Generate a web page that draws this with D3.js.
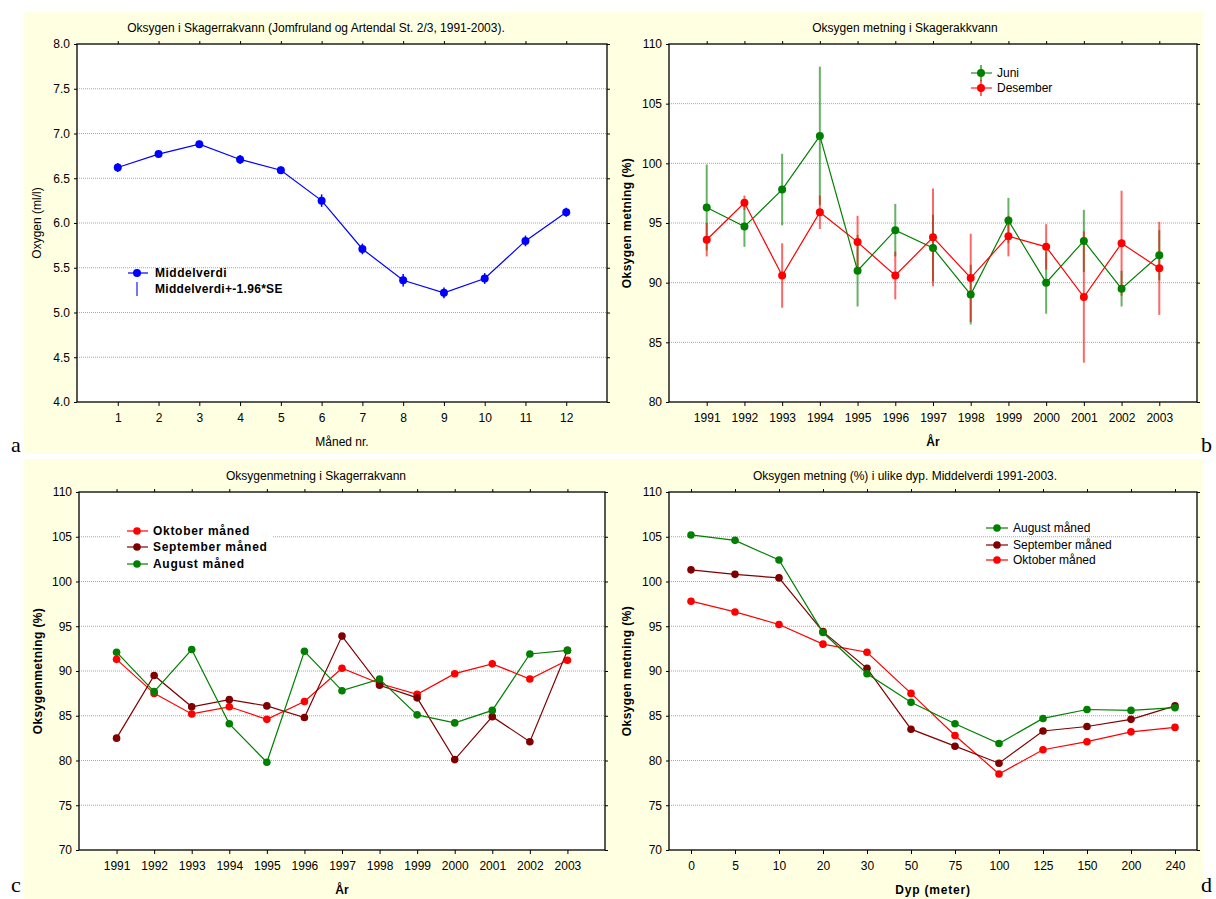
<!DOCTYPE html>
<html><head><meta charset="utf-8">
<script src="https://cdn.jsdelivr.net/npm/d3@7"></script>
<style>
body{margin:0;background:#fff;}
svg{display:block;font-family:"Liberation Sans",Arial,sans-serif;}
</style></head>
<body><svg id="c" width="1216" height="899"></svg>
<script>
// ---------- DATA ----------
const months = [1,2,3,4,5,6,7,8,9,10,11,12];
const oxygenMean = [6.62,6.77,6.88,6.71,6.59,6.25,5.71,5.36,5.22,5.38,5.80,6.12];
const oxygenCI   = [0.05,0.04,0.04,0.05,0.04,0.07,0.06,0.07,0.06,0.06,0.06,0.05];
const oxygenTicks = [4.0,4.5,5.0,5.5,6.0,6.5,7.0,7.5,8.0];

const years = [1991,1992,1993,1994,1995,1996,1997,1998,1999,2000,2001,2002,2003];
const juniSat      = [96.3,94.7,97.8,102.3,91.0,94.4,92.9,89.0,95.2,90.0,93.5,89.5,92.3];
const juniErr      = [3.6,1.7,3.0,5.8,3.0,2.2,2.8,2.5,1.9,2.6,2.6,1.5,2.1];
const desemberSat  = [93.6,96.7,90.6,95.9,93.4,90.6,93.8,90.4,93.9,93.0,88.8,93.3,91.2];
const desemberErr  = [1.4,0.6,2.7,1.4,2.2,2.0,4.1,3.7,1.7,1.9,5.5,4.4,3.9];
const satTicksB = [80,85,90,95,100,105,110];

const oktoberYear   = [91.3,87.5,85.2,86.0,84.6,86.6,90.3,88.6,87.4,89.7,90.8,89.1,91.2];
const septemberYear = [82.5,89.5,86.0,86.8,86.1,84.8,93.9,88.4,87.0,80.1,84.9,82.1,92.3];
const augustYear    = [92.1,87.7,92.4,84.1,79.8,92.2,87.8,89.1,85.1,84.2,85.6,91.9,92.3];
const satTicksCD = [70,75,80,85,90,95,100,105,110];

const depths = ["0","5","10","20","30","50","75","100","125","150","200","240"];
const augustDepth    = [105.2,104.6,102.4,94.3,89.7,86.5,84.1,81.9,84.7,85.7,85.6,85.9];
const septemberDepth = [101.3,100.8,100.4,94.4,90.3,83.5,81.6,79.7,83.3,83.8,84.6,86.1];
const oktoberDepth   = [97.8,96.6,95.2,93.0,92.1,87.5,82.8,78.5,81.2,82.1,83.2,83.7];

// ---------- DRAW ----------
const svg = d3.select("#c");
const BG = "#ffffe1";
const GREEN = "#008000", RED = "#ff0000", DARKRED = "#800000", BLUE = "#0000ff";

svg.append("rect").attr("x",24).attr("y",12).attr("width",1179).attr("height",442).attr("fill",BG);
svg.append("rect").attr("x",24).attr("y",459).attr("width",1179).attr("height",440).attr("fill",BG);

function frame(p){
  const g = svg.append("g");
  const y = d3.scaleLinear().domain(p.yDomain).range([p.bottom,p.top]);
  g.append("rect").attr("x",p.left).attr("y",p.top).attr("width",p.right-p.left).attr("height",p.bottom-p.top).attr("fill","#fff");
  g.selectAll(".grid").data(p.yTicks.filter(v=>v!==p.yDomain[0]&&v!==p.yDomain[1])).join("line")
    .attr("x1",p.left).attr("x2",p.right).attr("y1",d=>y(d)).attr("y2",d=>y(d))
    .attr("stroke","#a8a8a8").attr("stroke-width",1).attr("stroke-dasharray","1,1");
  const ax = g.append("g").attr("transform",`translate(${p.left},0)`)
    .call(d3.axisLeft(y).tickValues(p.yTicks).tickFormat(p.yFormat).tickSize(3).tickPadding(4));
  const bx = g.append("g").attr("transform",`translate(0,${p.bottom})`)
    .call(d3.axisBottom(p.x).tickValues(p.xTicks).tickFormat(p.xFormat).tickSize(4).tickPadding(7));
  const tx = g.append("g").attr("transform",`translate(0,${p.top})`)
    .call(d3.axisTop(p.x).tickValues(p.xTicks).tickFormat("").tickSize(3));
  const rx = g.append("g").attr("transform",`translate(${p.right},0)`)
    .call(d3.axisRight(y).tickValues(p.yTicks).tickFormat("").tickSize(3));
  [ax,bx,tx,rx].forEach(a=>{
    a.select(".domain").remove();
    a.selectAll("text").attr("font-size","12px").attr("fill","#000").attr("font-family","Liberation Sans, Arial, sans-serif");
    a.selectAll("line").attr("stroke","#000");
  });
  g.append("rect").attr("x",p.left).attr("y",p.top).attr("width",p.right-p.left).attr("height",p.bottom-p.top)
    .attr("fill","none").attr("stroke","#000").attr("stroke-width",1.3);
  svg.append("text").attr("x",p.titleX).attr("y",p.top-12).attr("text-anchor","middle")
    .attr("font-size","12px").text(p.title);
  svg.append("text").attr("x",(p.left+p.right)/2).attr("y",p.bottom+44).attr("text-anchor","middle")
    .attr("font-size","12px").attr("font-weight",p.xBold?"bold":"normal")
    .attr("letter-spacing",p.xSpace||"0px").text(p.xlabel);
  svg.append("text").attr("transform",`translate(${p.ylabelX},${(p.top+p.bottom)/2}) rotate(-90)`)
    .attr("text-anchor","middle").attr("font-size","12px").attr("font-weight",p.yBold?"bold":"normal")
    .attr("letter-spacing",p.yBold?"0.4px":"0px").text(p.ylabel);
  return {g,y};
}

function series(g,x,y,xs,vals,color,r){
  const line = d3.line().x((d,i)=>x(xs[i])).y(d=>y(d));
  g.append("path").datum(vals).attr("d",line).attr("fill","none").attr("stroke",color).attr("stroke-width",1.2);
  g.selectAll(null).data(vals).join("circle").attr("cx",(d,i)=>x(xs[i])).attr("cy",d=>y(d)).attr("r",r).attr("fill",color);
}
function errbars(g,x,y,xs,vals,errs,color,w,op){
  g.selectAll(null).data(vals).join("line")
    .attr("x1",(d,i)=>x(xs[i])).attr("x2",(d,i)=>x(xs[i]))
    .attr("y1",(d,i)=>y(d-errs[i])).attr("y2",(d,i)=>y(d+errs[i]))
    .attr("stroke",color).attr("stroke-width",w).attr("stroke-opacity",op);
}

// ---- Panel a ----
{
  const x = d3.scaleLinear().domain([0,13]).range([77,607]);
  const p = {left:77,right:607,top:44,bottom:402,x,yDomain:[4,8],yTicks:oxygenTicks,yFormat:d3.format(".1f"),
    xTicks:months,xFormat:d3.format("d"),title:"Oksygen i Skagerrakvann (Jomfruland og Artendal St. 2/3, 1991-2003).",
    titleX:316,xlabel:"Måned nr.",ylabel:"Oxygen (ml/l)",ylabelX:41};
  const {g,y} = frame(p);
  errbars(g,x,y,months,oxygenMean,oxygenCI,BLUE,1.5,1);
  series(g,x,y,months,oxygenMean,BLUE,4);
  const lg = svg.append("g");
  lg.append("line").attr("x1",128).attr("x2",148).attr("y1",273).attr("y2",273).attr("stroke",BLUE).attr("stroke-width",1.2);
  lg.append("circle").attr("cx",137).attr("cy",273).attr("r",4).attr("fill",BLUE);
  lg.append("line").attr("x1",137).attr("x2",137).attr("y1",282).attr("y2",296).attr("stroke","#4646ff").attr("stroke-width",1.5);
  lg.append("text").attr("x",155).attr("y",277).attr("font-size","12px").attr("font-weight","bold").attr("letter-spacing","0.5px").text("Middelverdi");
  lg.append("text").attr("x",155).attr("y",293).attr("font-size","12px").attr("font-weight","bold").attr("letter-spacing","0.3px").text("Middelverdi+-1.96*SE");
}

// ---- Panel b ----
{
  const x = d3.scaleLinear().domain([1990,2004]).range([669,1197]);
  const p = {left:669,right:1197,top:44,bottom:402,x,yDomain:[80,110],yTicks:satTicksB,yFormat:d3.format("d"),
    xTicks:years,xFormat:d3.format("d"),title:"Oksygen metning i Skagerakkvann",titleX:905,
    xlabel:"År",xBold:true,ylabel:"Oksygen metning (%)",yBold:true,ylabelX:631};
  const {g,y} = frame(p);
  errbars(g,x,y,years,juniSat,juniErr,GREEN,2,0.6);
  errbars(g,x,y,years,desemberSat,desemberErr,RED,2,0.6);
  series(g,x,y,years,juniSat,GREEN,4);
  series(g,x,y,years,desemberSat,RED,4);
  const lg = svg.append("g");
  [["Juni",GREEN,73],["Desember",RED,88]].forEach(([t,c,yy])=>{
    lg.append("line").attr("x1",971).attr("x2",992).attr("y1",yy).attr("y2",yy).attr("stroke",c).attr("stroke-opacity",0.7).attr("stroke-width",1.5);
    lg.append("line").attr("x1",981).attr("x2",981).attr("y1",yy-8).attr("y2",yy+8).attr("stroke",c).attr("stroke-width",1.2);
    lg.append("circle").attr("cx",981).attr("cy",yy).attr("r",4).attr("fill",c);
    lg.append("text").attr("x",997).attr("y",yy+4).attr("font-size","12px").text(t);
  });
}

// ---- Panel c ----
{
  const x = d3.scaleLinear().domain([1990,2004]).range([79,605]);
  const p = {left:79,right:605,top:492,bottom:850,x,yDomain:[70,110],yTicks:satTicksCD,yFormat:d3.format("d"),
    xTicks:years,xFormat:d3.format("d"),title:"Oksygenmetning i Skagerrakvann",titleX:316,
    xlabel:"År",xBold:true,ylabel:"Oksygenmetning (%)",yBold:true,ylabelX:42};
  const {g,y} = frame(p);
  series(g,x,y,years,oktoberYear,RED,3.8);
  series(g,x,y,years,septemberYear,DARKRED,3.8);
  series(g,x,y,years,augustYear,GREEN,3.8);
  const lg = svg.append("g");
  lg.append("rect").attr("x",120).attr("y",520).attr("width",152).attr("height",54).attr("fill","#fff");
  [["Oktober måned",RED,531],["September måned",DARKRED,547],["August måned",GREEN,564]].forEach(([t,c,yy])=>{
    lg.append("line").attr("x1",127).attr("x2",148).attr("y1",yy).attr("y2",yy).attr("stroke",c).attr("stroke-width",1.2);
    lg.append("circle").attr("cx",137).attr("cy",yy).attr("r",3.8).attr("fill",c);
    lg.append("text").attr("x",153).attr("y",yy+4).attr("font-size","12px").attr("font-weight","bold").attr("letter-spacing","0.7px").text(t);
  });
}

// ---- Panel d ----
{
  const x = d3.scalePoint().domain(depths).range([669,1197]).padding(0.5);
  const p = {left:669,right:1197,top:492,bottom:850,x,yDomain:[70,110],yTicks:satTicksCD,yFormat:d3.format("d"),
    xTicks:depths,xFormat:d=>d,title:"Oksygen metning (%) i ulike dyp. Middelverdi 1991-2003.",titleX:905,
    xlabel:"Dyp (meter)",xBold:true,xSpace:"0.8px",ylabel:"Oksygen metning (%)",yBold:true,ylabelX:631};
  const {g,y} = frame(p);
  series(g,x,y,depths,oktoberDepth,RED,3.8);
  series(g,x,y,depths,septemberDepth,DARKRED,3.8);
  series(g,x,y,depths,augustDepth,GREEN,3.8);
  const lg = svg.append("g");
  [["August måned",GREEN,528],["September måned",DARKRED,545],["Oktober måned",RED,560]].forEach(([t,c,yy])=>{
    lg.append("line").attr("x1",986).attr("x2",1008).attr("y1",yy).attr("y2",yy).attr("stroke",c).attr("stroke-width",1.2);
    lg.append("circle").attr("cx",997).attr("cy",yy).attr("r",3.8).attr("fill",c);
    lg.append("text").attr("x",1013).attr("y",yy+4).attr("font-size","12px").text(t);
  });
}

// panel letters
[["a",11,452],["b",1201,452],["c",11,892],["d",1201,892]].forEach(([t,xx,yy])=>{
  svg.append("text").attr("x",xx).attr("y",yy).attr("font-family","Liberation Serif, Times New Roman, serif")
    .attr("font-size","22px").text(t);
});
</script></body></html>
